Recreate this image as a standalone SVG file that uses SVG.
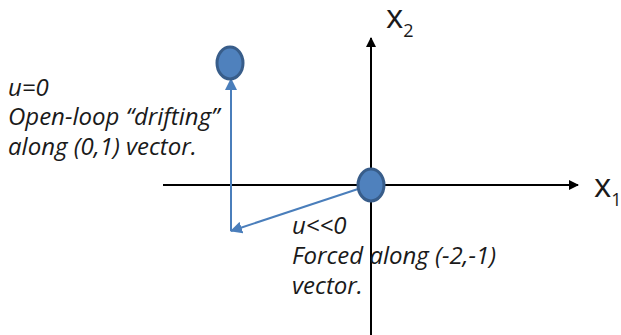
<svg xmlns="http://www.w3.org/2000/svg" width="621" height="335" viewBox="0 0 621 335">
<style>
.t{font-family:"Open Sans","Liberation Sans",sans-serif;font-style:italic;font-size:24px;fill:#1a1a1a}
.ax{font-family:"Open Sans","Liberation Sans",sans-serif;font-size:33px;fill:#1a1a1a}
.sub{font-size:18px}
.axis{stroke:#000;stroke-width:2;fill:none}
.blue{stroke:#4A7EBB;stroke-width:2;fill:none}
.node{fill:#4F81BD;stroke:#385D8A;stroke-width:3}
</style>
<defs>
<marker id="ka" markerWidth="10" markerHeight="10" refX="9" refY="5" orient="auto" markerUnits="userSpaceOnUse"><path d="M0,0 L10,5 L0,10 z" fill="#000"/></marker>
<marker id="ba" markerWidth="12" markerHeight="12" refX="11" refY="6" orient="auto" markerUnits="userSpaceOnUse"><path d="M0,0 L12,6 L0,12 z" fill="#4A7EBB"/></marker>
</defs>
<g id="connectors">
<line class="axis" x1="163" y1="185" x2="578" y2="185" marker-end="url(#ka)"/>
<line class="axis" x1="371" y1="335" x2="371" y2="38" marker-end="url(#ka)"/>
<line class="blue" x1="358" y1="189" x2="231" y2="231" marker-end="url(#ba)"/>
<line class="blue" x1="231" y1="231" x2="231" y2="79" marker-end="url(#ba)"/>
</g>
<g id="node-top"><ellipse class="node" cx="230" cy="63" rx="13" ry="16"/></g>
<g id="node-origin"><ellipse class="node" cx="371" cy="185" rx="13" ry="16"/></g>
<g id="label-x2"><text class="ax" x="386" y="28">x<tspan class="sub" dy="9">2</tspan></text></g>
<g id="label-x1"><text class="ax" x="594" y="197">x<tspan class="sub" dy="9">1</tspan></text></g>
<g id="label-drift">
<text class="t" x="8" y="96">u=0</text>
<text class="t" x="8" y="125">Open-loop “drifting”</text>
<text class="t" x="8" y="155">along (0,1) vector.</text>
</g>
<g id="label-forced">
<text class="t" x="292" y="234">u&lt;&lt;0</text>
<text class="t" x="292" y="264">Forced along (-2,-1)</text>
<text class="t" x="292" y="294">vector.</text>
</g>
</svg>
